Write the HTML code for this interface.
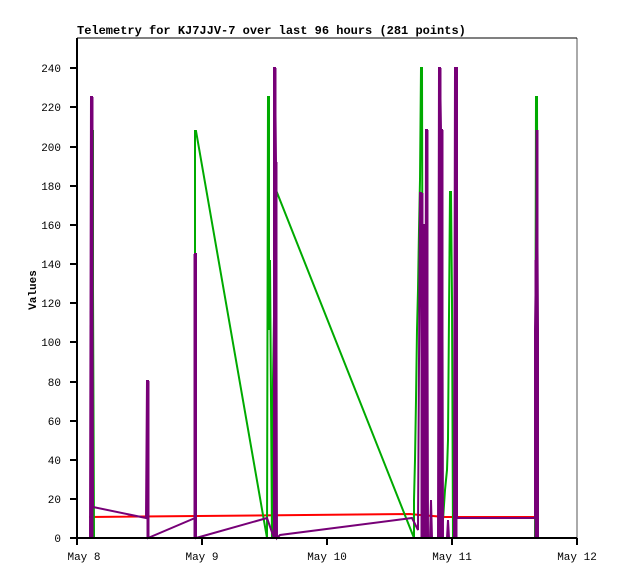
<!DOCTYPE html>
<html><head><style>body{margin:0;background:#fff}</style></head><body>
<svg width="618" height="579" xmlns="http://www.w3.org/2000/svg" font-family="Liberation Mono, monospace" shape-rendering="crispEdges">
<rect width="618" height="579" fill="#fff"/>
<text x="77" y="34" font-size="12" font-weight="bold">Telemetry for KJ7JJV-7 over last 96 hours (281 points)</text>
<line x1="577" y1="38" x2="577" y2="538" stroke="#555" stroke-width="1"/>
<line x1="77" y1="38" x2="577" y2="38" stroke="#000" stroke-width="1"/>
<g font-size="11" text-anchor="end">
<text x="61" y="542">0</text><text x="61" y="503">20</text><text x="61" y="464">40</text><text x="61" y="425">60</text><text x="61" y="386">80</text><text x="61" y="346">100</text><text x="61" y="307">120</text><text x="61" y="268">140</text><text x="61" y="229">160</text><text x="61" y="190">180</text><text x="61" y="151">200</text><text x="61" y="111">220</text><text x="61" y="72">240</text>
</g>
<g stroke="#000" stroke-width="2">
<line x1="70" y1="538" x2="77" y2="538"/><line x1="70" y1="499" x2="77" y2="499"/><line x1="70" y1="460" x2="77" y2="460"/><line x1="70" y1="421" x2="77" y2="421"/><line x1="70" y1="382" x2="77" y2="382"/><line x1="70" y1="342" x2="77" y2="342"/><line x1="70" y1="303" x2="77" y2="303"/><line x1="70" y1="264" x2="77" y2="264"/><line x1="70" y1="225" x2="77" y2="225"/><line x1="70" y1="186" x2="77" y2="186"/><line x1="70" y1="147" x2="77" y2="147"/><line x1="70" y1="107" x2="77" y2="107"/><line x1="70" y1="68" x2="77" y2="68"/>
<line x1="77" y1="538" x2="77" y2="545"/><line x1="202" y1="538" x2="202" y2="545"/><line x1="327" y1="538" x2="327" y2="545"/><line x1="452" y1="538" x2="452" y2="545"/><line x1="577" y1="538" x2="577" y2="545"/>
</g>
<line x1="77" y1="38" x2="77" y2="538" stroke="#000" stroke-width="2"/>
<g font-size="11" text-anchor="middle">
<text x="84" y="560">May 8</text><text x="202" y="560">May 9</text><text x="327" y="560">May 10</text><text x="452" y="560">May 11</text><text x="577" y="560">May 12</text>
</g>
<text x="36" y="290" font-size="11" font-weight="bold" text-anchor="middle" transform="rotate(-90 36 290)">Values</text>
<g fill="none" stroke-width="2" shape-rendering="auto">
<polyline stroke="#f00" points="89,517 410,514 420,515 445,517 537,517"/>
<polyline stroke="#00aa00" points="92,538 92,131 93,131 93,290 94,538 195,538 195,131 196,131 267,538 268,97 269,97 269,330 270,260 272,538 273,380 276,190 414,538 414,500 415,460 416,400 417,330 418,290 419,230 420,180 421,68 422,68 423,538 440,538 443,520 445,490 447,470 448,440 450,192 451,192 452,300 453,538 535,538 536,97 537,97 538,538"/>
<polyline stroke="#770077" points="90,538 91,97 92,97 93,507 146,518 147,381 148,381 148,538 195,518 195,254 196,254 196,538 267,518 274,538 274,68 275,68 276,162 277,538 280,535 412,518 418,530 420,193 421,193 422,538 423,225 424,225 425,538 426,130 427,130 428,538 430,538 431,500 432,538 438,538 439,68 440,68 441,130 442,130 443,538 447,538 448,520 449,538 454,538 455,68 457,68 457,518 535,518 535,330 536,260 537,162 538,330 538,538"/>
</g>
<g stroke="#770077" stroke-width="3">
<line x1="92" y1="538" x2="92" y2="97"/><line x1="148" y1="538" x2="148" y2="381"/><line x1="195" y1="538" x2="195" y2="254"/><line x1="275" y1="538" x2="275" y2="68"/><line x1="276" y1="538" x2="276" y2="162"/>
<line x1="422" y1="538" x2="422" y2="193"/><line x1="424" y1="538" x2="424" y2="225"/><line x1="427" y1="538" x2="427" y2="130"/><line x1="440" y1="538" x2="440" y2="68"/><line x1="442" y1="538" x2="442" y2="130"/><line x1="456" y1="538" x2="456" y2="68"/><line x1="536" y1="538" x2="536" y2="260"/><line x1="537" y1="538" x2="537" y2="130"/>
</g>
<line x1="77" y1="538" x2="577" y2="538" stroke="#000" stroke-width="2"/>
</svg>
</body></html>
